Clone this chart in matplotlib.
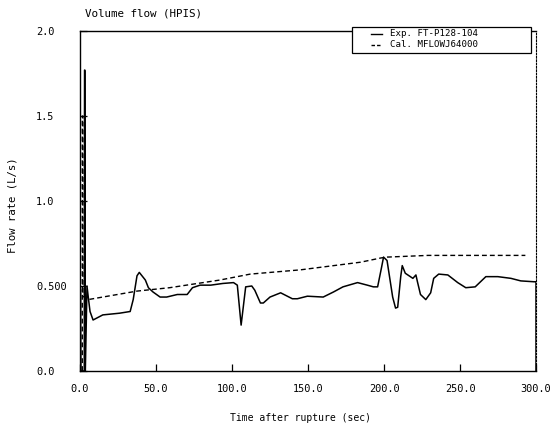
import matplotlib
matplotlib.use("Agg")
import matplotlib.pyplot as plt
from matplotlib.lines import Line2D
from matplotlib.patches import Rectangle
from matplotlib.ticker import FixedLocator, FixedFormatter

# Measured flow (Exp. FT-P128-104)
exp_t = [0.0, 0.3, 0.6, 2.8, 3.0, 3.2, 3.5, 4.6, 5.5, 6.6, 8.6, 15, 26, 33, 35, 37.5, 39, 43, 45,
         48, 52.7, 57, 64, 70.5, 74, 79, 86, 94, 101, 103.5, 106, 109, 113, 115, 118.7, 120.6,
         125, 132, 139.7, 143, 149.6, 160, 166.8, 173, 182.6, 189, 193, 195.8, 198.4, 199.7,
         202, 205.7, 207.6, 209, 211, 212, 214, 219, 221, 222, 224, 227.5, 230.7, 232.7, 236,
         242, 248.5, 253.8, 260, 267, 274.9, 283.5, 290, 298.6, 300.0, 300.0]
exp_v = [0.0, 0.48, 0.0, 0.0, 1.77, 1.77, 0.0, 0.50, 0.43, 0.35, 0.30, 0.33, 0.34, 0.35, 0.42,
         0.56, 0.58, 0.535, 0.49, 0.465, 0.435, 0.435, 0.45, 0.45, 0.49, 0.505, 0.505, 0.515,
         0.52, 0.505, 0.27, 0.495, 0.50, 0.475, 0.40, 0.40, 0.435, 0.46, 0.425, 0.425, 0.44,
         0.435, 0.465, 0.495, 0.52, 0.505, 0.495, 0.495, 0.61, 0.67, 0.65, 0.435, 0.37, 0.375,
         0.555, 0.62, 0.575, 0.545, 0.565, 0.525, 0.45, 0.42, 0.46, 0.545, 0.57, 0.565, 0.52,
         0.49, 0.495, 0.555, 0.555, 0.545, 0.53, 0.525, 0.525, 0.0]

# Calculated flow (Cal. MFLOWJ64000)
cal_t = [1.5, 1.5, 1.9, 1.9, 5.3, 37.5, 59, 81, 92, 112, 145, 184.6, 198, 202, 229, 293]
cal_v = [0.0, 1.5, 1.5, 0.44, 0.42, 0.47, 0.49, 0.52, 0.535, 0.57, 0.595, 0.64, 0.665, 0.67,
         0.68, 0.68]

x_ticks = [0, 50, 100, 150, 200, 250, 300]
x_labels = ["0.0", "50.0", "100.0", "150.0", "200.0", "250.0", "300.0"]
y_ticks = [0.0, 0.5, 1.0, 1.5, 2.0]
y_labels = ["0.0", "0.500", "1.0", "1.5", "2.0"]

series_names = ["Exp. FT-P128-104", "Cal. MFLOWJ64000"]

font = "DejaVu Sans Mono"
fs_tick = 7.4

fig = plt.figure(figsize=(5.55, 4.28), dpi=100)
ax = fig.add_axes([80 / 555, 1 - 371 / 428, 456 / 555, 340 / 428])

solid_style = dict(color="black", lw=1.1, ls="-")
dash_style = dict(color="black", lw=1.0, ls=(0, (3.5, 2.2)))

ax.plot(exp_t, exp_v, **solid_style)
ax.plot(cal_t, cal_v, **dash_style)

ax.set_xlim(0, 300)
ax.set_ylim(0, 2.0)

ax.xaxis.set_major_locator(FixedLocator(x_ticks))
ax.xaxis.set_major_formatter(FixedFormatter(x_labels))
ax.yaxis.set_major_locator(FixedLocator(y_ticks))
ax.yaxis.set_major_formatter(FixedFormatter(y_labels))

ax.tick_params(axis="x", direction="in", length=5, width=0.9, pad=9,
               labelsize=fs_tick, labelfontfamily=font)
ax.tick_params(axis="y", direction="in", length=5, width=0.9, pad=31.5,
               labelsize=fs_tick, labelfontfamily=font)
for lab in ax.get_yticklabels():
    lab.set_horizontalalignment("left")

for s in ax.spines.values():
    s.set_linewidth(1.0)
ax.spines["right"].set_linestyle((0, (1.5, 1.5)))
ax.spines["right"].set_linewidth(0.8)

fig.text(85 / 555, 1 - 14 / 428, "Volume flow (HPIS)", family=font, fontsize=7.8,
         ha="left", va="center")
fig.text(301 / 555, 1 - 418 / 428, "Time after rupture (sec)", family=font, fontsize=7.0,
         ha="center", va="center")
fig.text(13 / 555, 1 - 205 / 428, "Flow rate (L/s)", family=font, fontsize=7.7,
         ha="center", va="center", rotation=90)

# Legend box placed in pixel-based figure coordinates
W, H = 555.0, 428.0
def fx(px):
    return px / W
def fy(py):
    return 1 - py / H

fig.patches.append(Rectangle((fx(352), fy(53)), (531 - 352) / W, (53 - 27) / H,
                             transform=fig.transFigure, facecolor="white",
                             edgecolor="black", lw=0.9, zorder=5))
rows = [33.5, 44.5]
handle_ls = ["-", (0, (2.5, 1.5))]
for row, name, hls in zip(rows, series_names, handle_ls):
    fig.lines.append(Line2D([fx(371), fx(382)], [fy(row), fy(row)],
                            transform=fig.transFigure, zorder=6,
                            color="black", lw=1.0, ls=hls))
    fig.text(fx(390), fy(row), name, family=font, fontsize=6.6, ha="left",
             va="center", zorder=6)

fig.savefig("out.png", dpi=100)
